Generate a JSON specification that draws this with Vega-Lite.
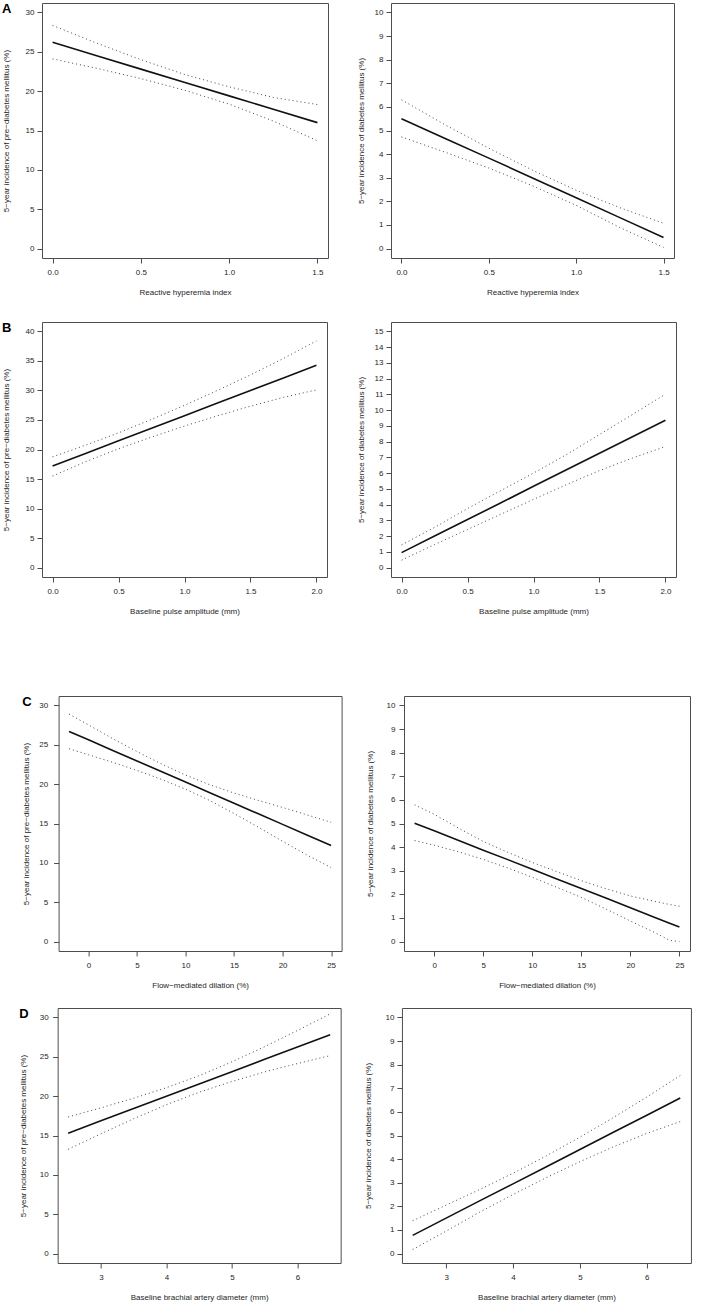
{
  "$schema": "https://vega.github.io/schema/vega-lite/v6.json",
  "padding": {"left": 1, "top": 2, "right": 0, "bottom": 0},
  "background": "white",
  "datasets": {
    "a1": [
      {"x": 0, "fit": 26.2, "upper": 28.35, "lower": 24.1},
      {"x": 0.25, "fit": 24.5, "upper": 26.1, "lower": 22.9},
      {"x": 0.5, "fit": 22.8, "upper": 24.0, "lower": 21.6},
      {"x": 0.75, "fit": 21.1, "upper": 22.1, "lower": 20.1},
      {"x": 1, "fit": 19.4, "upper": 20.55, "lower": 18.35},
      {"x": 1.25, "fit": 17.7, "upper": 19.2, "lower": 16.2},
      {"x": 1.5, "fit": 16.0, "upper": 18.3, "lower": 13.7}
    ],
    "a2": [
      {"x": 0, "fit": 5.5, "upper": 6.3, "lower": 4.73},
      {"x": 0.25, "fit": 4.66, "upper": 5.24, "lower": 4.08},
      {"x": 0.5, "fit": 3.83, "upper": 4.25, "lower": 3.41},
      {"x": 0.75, "fit": 2.99, "upper": 3.32, "lower": 2.66},
      {"x": 1, "fit": 2.15, "upper": 2.47, "lower": 1.83},
      {"x": 1.25, "fit": 1.31, "upper": 1.73, "lower": 0.89},
      {"x": 1.5, "fit": 0.47, "upper": 1.07, "lower": 0.05}
    ],
    "b1": [
      {"x": 0, "fit": 17.2, "upper": 18.75, "lower": 15.5},
      {"x": 0.25, "fit": 19.33, "upper": 20.73, "lower": 17.93},
      {"x": 0.5, "fit": 21.47, "upper": 22.82, "lower": 20.12},
      {"x": 0.75, "fit": 23.6, "upper": 25.1, "lower": 22.1},
      {"x": 1, "fit": 25.73, "upper": 27.48, "lower": 23.98},
      {"x": 1.25, "fit": 27.86, "upper": 30.01, "lower": 25.71},
      {"x": 1.5, "fit": 29.99, "upper": 32.64, "lower": 27.34},
      {"x": 1.75, "fit": 32.13, "upper": 35.43, "lower": 28.83},
      {"x": 2, "fit": 34.26, "upper": 38.4, "lower": 30.1}
    ],
    "b2": [
      {"x": 0, "fit": 0.95, "upper": 1.44, "lower": 0.47},
      {"x": 0.25, "fit": 2.0, "upper": 2.55, "lower": 1.46},
      {"x": 0.5, "fit": 3.05, "upper": 3.75, "lower": 2.42},
      {"x": 0.75, "fit": 4.1, "upper": 4.88, "lower": 3.38},
      {"x": 1, "fit": 5.16, "upper": 6.0, "lower": 4.33},
      {"x": 1.25, "fit": 6.21, "upper": 7.18, "lower": 5.27},
      {"x": 1.5, "fit": 7.26, "upper": 8.45, "lower": 6.16},
      {"x": 1.75, "fit": 8.31, "upper": 9.72, "lower": 6.96},
      {"x": 2, "fit": 9.36, "upper": 11.02, "lower": 7.69}
    ],
    "c1": [
      {"x": -2, "fit": 26.7, "upper": 28.9, "lower": 24.5},
      {"x": 0, "fit": 25.63, "upper": 27.53, "lower": 23.73},
      {"x": 2.5, "fit": 24.28, "upper": 25.78, "lower": 22.78},
      {"x": 5, "fit": 22.94, "upper": 24.14, "lower": 21.74},
      {"x": 7.5, "fit": 21.6, "upper": 22.58, "lower": 20.62},
      {"x": 10, "fit": 20.26, "upper": 21.16, "lower": 19.36},
      {"x": 12.5, "fit": 18.92, "upper": 19.92, "lower": 17.92},
      {"x": 15, "fit": 17.57, "upper": 18.87, "lower": 16.27},
      {"x": 17.5, "fit": 16.23, "upper": 17.93, "lower": 14.53},
      {"x": 20, "fit": 14.89, "upper": 17.04, "lower": 12.74},
      {"x": 22.5, "fit": 13.55, "upper": 16.1, "lower": 11.0},
      {"x": 25, "fit": 12.2, "upper": 15.15, "lower": 9.4}
    ],
    "c2": [
      {"x": -2, "fit": 5.01, "upper": 5.79, "lower": 4.28},
      {"x": 0, "fit": 4.69, "upper": 5.39, "lower": 4.08},
      {"x": 2.5, "fit": 4.28, "upper": 4.8, "lower": 3.8},
      {"x": 5, "fit": 3.87, "upper": 4.24, "lower": 3.48},
      {"x": 7.5, "fit": 3.47, "upper": 3.78, "lower": 3.12},
      {"x": 10, "fit": 3.06, "upper": 3.35, "lower": 2.72},
      {"x": 12.5, "fit": 2.65, "upper": 2.96, "lower": 2.3},
      {"x": 15, "fit": 2.25, "upper": 2.58, "lower": 1.87},
      {"x": 17.5, "fit": 1.84, "upper": 2.24, "lower": 1.38},
      {"x": 20, "fit": 1.43, "upper": 1.93, "lower": 0.87},
      {"x": 22.5, "fit": 1.02, "upper": 1.7, "lower": 0.38},
      {"x": 24, "fit": 0.78, "upper": 1.57, "lower": 0.05},
      {"x": 25, "fit": 0.62, "upper": 1.5, "lower": 0.0}
    ],
    "d1": [
      {"x": 2.5, "fit": 15.3, "upper": 17.35, "lower": 13.25},
      {"x": 3, "fit": 16.86, "upper": 18.51, "lower": 15.21},
      {"x": 3.5, "fit": 18.43, "upper": 19.73, "lower": 17.13},
      {"x": 4, "fit": 19.99, "upper": 21.07, "lower": 18.91},
      {"x": 4.5, "fit": 21.55, "upper": 22.6, "lower": 20.5},
      {"x": 5, "fit": 23.11, "upper": 24.36, "lower": 21.86},
      {"x": 5.5, "fit": 24.68, "upper": 26.28, "lower": 23.08},
      {"x": 6, "fit": 26.24, "upper": 28.34, "lower": 24.14},
      {"x": 6.5, "fit": 27.8, "upper": 30.45, "lower": 25.15}
    ],
    "d2": [
      {"x": 2.5, "fit": 0.77, "upper": 1.39, "lower": 0.17},
      {"x": 3, "fit": 1.5, "upper": 2.05, "lower": 0.95},
      {"x": 3.5, "fit": 2.23, "upper": 2.71, "lower": 1.75},
      {"x": 4, "fit": 2.95, "upper": 3.4, "lower": 2.5},
      {"x": 4.5, "fit": 3.68, "upper": 4.14, "lower": 3.22},
      {"x": 5, "fit": 4.41, "upper": 4.93, "lower": 3.89},
      {"x": 5.5, "fit": 5.14, "upper": 5.76, "lower": 4.52},
      {"x": 6, "fit": 5.86, "upper": 6.63, "lower": 5.09},
      {"x": 6.5, "fit": 6.59, "upper": 7.54, "lower": 5.59}
    ]
  },
  "center": true,
  "spacing": 79,
  "vconcat": [
    {
      "center": true,
      "spacing": 24,
      "vconcat": [
        {
          "spacing": 27,
          "hconcat": [
            {
              "width": 286, "height": 255,
              "title": {"text": "A"},
              "data": {"name": "a1"},
              "transform": [{"fold": ["fit", "upper", "lower"], "as": ["s", "y"]}],
              "encoding": {
                "x": {"field": "x", "type": "quantitative", "scale": {"domain": [-0.06, 1.56], "nice": false, "zero": false}, "axis": {"values": [0, 0.5, 1, 1.5], "format": ".1f", "title": "Reactive hyperemia index"}},
                "y": {"field": "y", "type": "quantitative", "scale": {"domain": [-1.2, 31.2], "nice": false, "zero": false}, "axis": {"values": [0, 5, 10, 15, 20, 25, 30], "title": "5−year incidence of pre−diabetes mellitus (%)", "labelPadding": 3, "titlePadding": 15}}
              },
              "layer": [
                {"transform": [{"filter": "datum.s === 'fit'"}], "mark": {"type": "line", "color": "#111111", "strokeWidth": 1.6}, "encoding": {}},
                {"transform": [{"filter": "datum.s !== 'fit'"}], "mark": {"type": "line", "color": "#444444", "strokeWidth": 1, "strokeDash": [1, 3]}, "encoding": {"detail": {"field": "s"}}}
              ]
            },
            {
              "width": 283, "height": 255,
              "data": {"name": "a2"},
              "transform": [{"fold": ["fit", "upper", "lower"], "as": ["s", "y"]}],
              "encoding": {
                "x": {"field": "x", "type": "quantitative", "scale": {"domain": [-0.06, 1.56], "nice": false, "zero": false}, "axis": {"values": [0, 0.5, 1, 1.5], "format": ".1f", "title": "Reactive hyperemia index"}},
                "y": {"field": "y", "type": "quantitative", "scale": {"domain": [-0.4, 10.4], "nice": false, "zero": false}, "axis": {"values": [0, 1, 2, 3, 4, 5, 6, 7, 8, 9, 10], "title": "5−year incidence of diabetes mellitus (%)", "labelPadding": 3, "titlePadding": 9}}
              },
              "layer": [
                {"transform": [{"filter": "datum.s === 'fit'"}], "mark": {"type": "line", "color": "#111111", "strokeWidth": 1.6}, "encoding": {}},
                {"transform": [{"filter": "datum.s !== 'fit'"}], "mark": {"type": "line", "color": "#444444", "strokeWidth": 1, "strokeDash": [1, 3]}, "encoding": {"detail": {"field": "s"}}}
              ]
            },
            {
              "width": 5, "height": 1,
              "data": {"values": [{"v": 0}]},
              "mark": {"type": "point", "opacity": 0, "size": 0},
              "encoding": {},
              "view": {"stroke": null}
            }
          ]
        },
        {
          "spacing": 28,
          "hconcat": [
            {
              "width": 285, "height": 255,
              "title": {"text": "B"},
              "data": {"name": "b1"},
              "transform": [{"fold": ["fit", "upper", "lower"], "as": ["s", "y"]}],
              "encoding": {
                "x": {"field": "x", "type": "quantitative", "scale": {"domain": [-0.08, 2.08], "nice": false, "zero": false}, "axis": {"values": [0, 0.5, 1, 1.5, 2], "format": ".1f", "title": "Baseline pulse amplitude (mm)"}},
                "y": {"field": "y", "type": "quantitative", "scale": {"domain": [-1.6, 41.6], "nice": false, "zero": false}, "axis": {"values": [0, 5, 10, 15, 20, 25, 30, 35, 40], "title": "5−year incidence of pre−diabetes mellitus (%)", "labelPadding": 3, "titlePadding": 15}}
              },
              "layer": [
                {"transform": [{"filter": "datum.s === 'fit'"}], "mark": {"type": "line", "color": "#111111", "strokeWidth": 1.6}, "encoding": {}},
                {"transform": [{"filter": "datum.s !== 'fit'"}], "mark": {"type": "line", "color": "#444444", "strokeWidth": 1, "strokeDash": [1, 3]}, "encoding": {"detail": {"field": "s"}}}
              ]
            },
            {
              "width": 285, "height": 255,
              "data": {"name": "b2"},
              "transform": [{"fold": ["fit", "upper", "lower"], "as": ["s", "y"]}],
              "encoding": {
                "x": {"field": "x", "type": "quantitative", "scale": {"domain": [-0.08, 2.08], "nice": false, "zero": false}, "axis": {"values": [0, 0.5, 1, 1.5, 2], "format": ".1f", "title": "Baseline pulse amplitude (mm)"}},
                "y": {"field": "y", "type": "quantitative", "scale": {"domain": [-0.6, 15.6], "nice": false, "zero": false}, "axis": {"values": [0, 1, 2, 3, 4, 5, 6, 7, 8, 9, 10, 11, 12, 13, 14, 15], "title": "5−year incidence of diabetes mellitus (%)", "labelPadding": 3, "titlePadding": 9}}
              },
              "layer": [
                {"transform": [{"filter": "datum.s === 'fit'"}], "mark": {"type": "line", "color": "#111111", "strokeWidth": 1.6}, "encoding": {}},
                {"transform": [{"filter": "datum.s !== 'fit'"}], "mark": {"type": "line", "color": "#444444", "strokeWidth": 1, "strokeDash": [1, 3]}, "encoding": {"detail": {"field": "s"}}}
              ]
            },
            {
              "width": 2, "height": 1,
              "data": {"values": [{"v": 0}]},
              "mark": {"type": "point", "opacity": 0, "size": 0},
              "encoding": {},
              "view": {"stroke": null}
            }
          ]
        }
      ]
    },
    {
      "center": true,
      "spacing": 17,
      "vconcat": [
        {
          "spacing": 22.4,
          "hconcat": [
            {
              "width": 283, "height": 255,
              "title": {"text": "C"},
              "data": {"name": "c1"},
              "transform": [{"fold": ["fit", "upper", "lower"], "as": ["s", "y"]}],
              "encoding": {
                "x": {"field": "x", "type": "quantitative", "scale": {"domain": [-3.08, 26.08], "nice": false, "zero": false}, "axis": {"values": [0, 5, 10, 15, 20, 25], "format": "d", "title": "Flow−mediated dilation (%)"}},
                "y": {"field": "y", "type": "quantitative", "scale": {"domain": [-1.2, 31.2], "nice": false, "zero": false}, "axis": {"values": [0, 5, 10, 15, 20, 25, 30], "title": "5−year incidence of pre−diabetes mellitus (%)", "labelPadding": 6, "titlePadding": 8.4}}
              },
              "layer": [
                {"transform": [{"filter": "datum.s === 'fit'"}], "mark": {"type": "line", "color": "#111111", "strokeWidth": 1.6}, "encoding": {}},
                {"transform": [{"filter": "datum.s !== 'fit'"}], "mark": {"type": "line", "color": "#444444", "strokeWidth": 1, "strokeDash": [1, 3]}, "encoding": {"detail": {"field": "s"}}}
              ]
            },
            {
              "width": 286, "height": 255,
              "data": {"name": "c2"},
              "transform": [{"fold": ["fit", "upper", "lower"], "as": ["s", "y"]}],
              "encoding": {
                "x": {"field": "x", "type": "quantitative", "scale": {"domain": [-3.08, 26.08], "nice": false, "zero": false}, "axis": {"values": [0, 5, 10, 15, 20, 25], "format": "d", "title": "Flow−mediated dilation (%)"}},
                "y": {"field": "y", "type": "quantitative", "scale": {"domain": [-0.4, 10.4], "nice": false, "zero": false}, "axis": {"values": [0, 1, 2, 3, 4, 5, 6, 7, 8, 9, 10], "title": "5−year incidence of diabetes mellitus (%)", "labelPadding": 4, "titlePadding": 11.7}}
              },
              "layer": [
                {"transform": [{"filter": "datum.s === 'fit'"}], "mark": {"type": "line", "color": "#111111", "strokeWidth": 1.6}, "encoding": {}},
                {"transform": [{"filter": "datum.s !== 'fit'"}], "mark": {"type": "line", "color": "#444444", "strokeWidth": 1, "strokeDash": [1, 3]}, "encoding": {"detail": {"field": "s"}}}
              ]
            }
          ]
        },
        {
          "spacing": 22.3,
          "hconcat": [
            {
              "width": 283, "height": 255,
              "title": {"text": "D"},
              "data": {"name": "d1"},
              "transform": [{"fold": ["fit", "upper", "lower"], "as": ["s", "y"]}],
              "encoding": {
                "x": {"field": "x", "type": "quantitative", "scale": {"domain": [2.34, 6.66], "nice": false, "zero": false}, "axis": {"values": [3, 4, 5, 6], "format": "d", "title": "Baseline brachial artery diameter (mm)"}},
                "y": {"field": "y", "type": "quantitative", "scale": {"domain": [-1.2, 31.2], "nice": false, "zero": false}, "axis": {"values": [0, 5, 10, 15, 20, 25, 30], "title": "5−year incidence of pre−diabetes mellitus (%)", "labelPadding": 4.5, "titlePadding": 12.1}}
              },
              "layer": [
                {"transform": [{"filter": "datum.s === 'fit'"}], "mark": {"type": "line", "color": "#111111", "strokeWidth": 1.6}, "encoding": {}},
                {"transform": [{"filter": "datum.s !== 'fit'"}], "mark": {"type": "line", "color": "#444444", "strokeWidth": 1, "strokeDash": [1, 3]}, "encoding": {"detail": {"field": "s"}}}
              ]
            },
            {
              "width": 289, "height": 255,
              "data": {"name": "d2"},
              "transform": [{"fold": ["fit", "upper", "lower"], "as": ["s", "y"]}],
              "encoding": {
                "x": {"field": "x", "type": "quantitative", "scale": {"domain": [2.34, 6.66], "nice": false, "zero": false}, "axis": {"values": [3, 4, 5, 6], "format": "d", "title": "Baseline brachial artery diameter (mm)"}},
                "y": {"field": "y", "type": "quantitative", "scale": {"domain": [-0.4, 10.4], "nice": false, "zero": false}, "axis": {"values": [0, 1, 2, 3, 4, 5, 6, 7, 8, 9, 10], "title": "5−year incidence of diabetes mellitus (%)", "labelPadding": 3, "titlePadding": 12.4}}
              },
              "layer": [
                {"transform": [{"filter": "datum.s === 'fit'"}], "mark": {"type": "line", "color": "#111111", "strokeWidth": 1.6}, "encoding": {}},
                {"transform": [{"filter": "datum.s !== 'fit'"}], "mark": {"type": "line", "color": "#444444", "strokeWidth": 1, "strokeDash": [1, 3]}, "encoding": {"detail": {"field": "s"}}}
              ]
            }
          ]
        }
      ]
    }
  ],
  "config": {
    "view": {"stroke": "#4d4d4d", "strokeWidth": 1},
    "axis": {
      "grid": false, "domain": false,
      "tickColor": "#4d4d4d", "tickSize": 5, "tickWidth": 1,
      "labelFont": "Liberation Sans", "labelFontSize": 8, "labelColor": "#262626",
      "titleFont": "Liberation Sans", "titleFontSize": 8, "titleFontWeight": "normal", "titleColor": "#262626",
      "labelFlush": false, "labelOverlap": false
    },
    "axisX": {"labelPadding": 5, "titlePadding": 12},
    "title": {"font": "Liberation Sans", "fontSize": 13, "fontWeight": "bold", "anchor": "start", "frame": "bounds", "offset": -13, "color": "#000000"}
  }
}
